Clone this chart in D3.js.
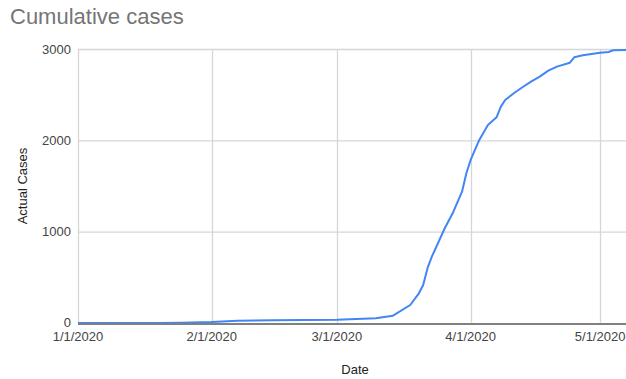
<!DOCTYPE html>
<html>
<head>
<meta charset="utf-8">
<script src="https://cdn.jsdelivr.net/npm/d3@7/dist/d3.min.js"></script>
<style>
  html, body { margin: 0; padding: 0; background: #fff; }
  svg { display: block; font-family: Arial, "Liberation Sans", sans-serif; }
</style>
</head>
<body>
<svg id="chart" width="626" height="379"></svg>
<script>
// Cumulative confirmed cases by report date
const dates = [
  "2020-01-01", "2020-01-20", "2020-01-25", "2020-02-01", "2020-02-07",
  "2020-02-15", "2020-03-01", "2020-03-10", "2020-03-14", "2020-03-18",
  "2020-03-20", "2020-03-21", "2020-03-22", "2020-03-23", "2020-03-26",
  "2020-03-28", "2020-03-30", "2020-03-31", "2020-04-01", "2020-04-03",
  "2020-04-05", "2020-04-07", "2020-04-08", "2020-04-09", "2020-04-11",
  "2020-04-13", "2020-04-15", "2020-04-17", "2020-04-19", "2020-04-21",
  "2020-04-24", "2020-04-25", "2020-04-27", "2020-05-01", "2020-05-03",
  "2020-05-04", "2020-05-07"
];
const cases = [
  0, 0, 3, 10, 25,
  30, 35, 51, 80, 197,
  325, 416, 600, 726, 1037,
  1219, 1438, 1639, 1785, 2004,
  2168, 2252, 2369, 2442, 2515,
  2581, 2642, 2697, 2763, 2807,
  2850, 2909, 2931, 2960, 2967,
  2986, 2989
];
const xTickLabels = ["1/1/2020", "2/1/2020", "3/1/2020", "4/1/2020", "5/1/2020"];
const yTicks = [0, 1000, 2000, 3000];

const chartTitle = "Cumulative cases";
const xTitle = "Date";
const yTitle = "Actual Cases";

const parse = d3.timeParse("%Y-%m-%d");
const parseTick = d3.timeParse("%m/%d/%Y");
const points = dates.map((d, i) => ({ date: parse(d), value: cases[i] }));

const svg = d3.select("#chart");
const plotLeft = 78, plotRight = 626, plotTop = 49, plotBottom = 323;

const x = d3.scaleTime()
  .domain([parse("2020-01-01"), parse("2020-05-07")])
  .range([plotLeft, plotRight]);
const y = d3.scaleLinear().domain([0, 3000]).range([plotBottom, plotTop]);

// title
svg.append("text")
  .attr("x", 10).attr("y", 24)
  .attr("font-size", 22)
  .attr("fill", "#757575")
  .text(chartTitle);

// horizontal gridlines
svg.append("g")
  .selectAll("line")
  .data(yTicks.filter(v => v > 0))
  .join("line")
  .attr("x1", plotLeft).attr("x2", plotRight)
  .attr("y1", d => y(d) + 0.5).attr("y2", d => y(d) + 0.5)
  .attr("stroke", "#d6d6d6").attr("stroke-width", 1.3);

// vertical gridlines at month starts
const tickDates = xTickLabels.map(t => parseTick(t));
svg.append("g")
  .selectAll("line")
  .data(tickDates)
  .join("line")
  .attr("x1", d => Math.round(x(d)) + 0.5).attr("x2", d => Math.round(x(d)) + 0.5)
  .attr("y1", plotTop).attr("y2", plotBottom)
  .attr("stroke", "#d6d6d6").attr("stroke-width", 1.3);

// y tick labels
svg.append("g")
  .selectAll("text")
  .data(yTicks)
  .join("text")
  .attr("x", 71).attr("y", d => y(d) + (d === 0 ? 3.5 : 4.5))
  .attr("text-anchor", "end")
  .attr("font-size", 13)
  .attr("fill", "#444")
  .text(d => d);

// x tick labels
svg.append("g")
  .selectAll("text")
  .data(xTickLabels)
  .join("text")
  .attr("x", d => x(parseTick(d)))
  .attr("y", 341)
  .attr("text-anchor", "middle")
  .attr("font-size", 13)
  .attr("fill", "#444")
  .text(d => d);

// axis titles
svg.append("text")
  .attr("x", 355).attr("y", 374)
  .attr("text-anchor", "middle")
  .attr("font-size", 13)
  .attr("fill", "#222")
  .text(xTitle);

svg.append("text")
  .attr("transform", `translate(27, ${(plotTop + plotBottom) / 2}) rotate(-90)`)
  .attr("text-anchor", "middle")
  .attr("font-size", 13)
  .attr("fill", "#222")
  .text(yTitle);

// line
const line = d3.line()
  .x(d => x(d.date))
  .y(d => y(d.value));

svg.append("path")
  .datum(points)
  .attr("fill", "none")
  .attr("stroke", "#4285f4")
  .attr("stroke-width", 2)
  .attr("stroke-linejoin", "round")
  .attr("d", line);

// zero baseline
svg.append("line")
  .attr("x1", plotLeft).attr("x2", plotRight)
  .attr("y1", plotBottom + 1).attr("y2", plotBottom + 1)
  .attr("stroke", "#808080").attr("stroke-width", 2);
</script>
</body>
</html>
